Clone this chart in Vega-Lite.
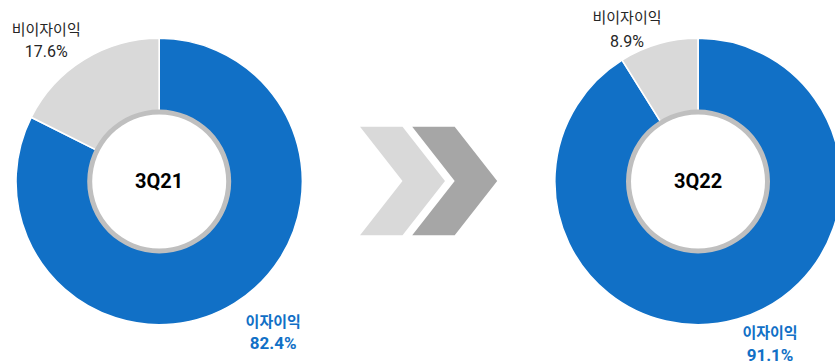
{
  "$schema": "https://vega.github.io/schema/vega-lite/v6.json",
  "width": 835,
  "height": 364,
  "autosize": "none",
  "padding": 0,
  "background": "white",
  "view": {"stroke": null},
  "config": {"font": "Noto Sans CJK KR"},
  "datasets": {
    "income": [
      {"period": "3Q21", "type": "이자이익", "share": 0.824},
      {"period": "3Q21", "type": "비이자이익", "share": 0.176},
      {"period": "3Q22", "type": "이자이익", "share": 0.911},
      {"period": "3Q22", "type": "비이자이익", "share": 0.089}
    ],
    "arrows": [
      {"period": "→", "shade": "light"},
      {"period": "→", "shade": "dark"}
    ]
  },
  "encoding": {
    "x": {
      "field": "period",
      "type": "nominal",
      "scale": {"type": "point", "domain": ["3Q21", "→", "3Q22"], "padding": 0.5497, "align": 0.5375},
      "axis": null
    }
  },
  "layer": [
    {
      "data": {"name": "income"},
      "transform": [
        {"stack": "share", "groupby": ["period"], "sort": [{"field": "type", "order": "descending"}], "as": ["s0", "s1"]}
      ],
      "mark": {"type": "arc", "outerRadius": 143.2, "innerRadius": 70, "stroke": "white", "strokeWidth": 1.6, "yOffset": -0.5},
      "encoding": {
        "theta": {"field": "s0", "type": "quantitative", "scale": {"domain": [0, 1]}},
        "theta2": {"field": "s1"},
        "color": {"field": "type", "type": "nominal", "scale": {"domain": ["이자이익", "비이자이익"], "range": ["#1170C6", "#D9D9D9"]}, "legend": null}
      }
    },
    {
      "data": {"name": "income"},
      "transform": [{"filter": "datum.type === '이자이익'"}],
      "mark": {"type": "arc", "theta": 0, "theta2": 6.2832, "innerRadius": 67, "outerRadius": 72, "fill": "#BFBFBF", "yOffset": -0.5},
      "encoding": {}
    },
    {
      "data": {"name": "income"},
      "transform": [{"filter": "datum.type === '이자이익'"}],
      "mark": {"type": "text", "font": "Roboto", "fontWeight": "bold", "fontSize": 20, "align": "center", "baseline": "middle", "color": "#000000"},
      "encoding": {"text": {"field": "period"}}
    },
    {
      "data": {"name": "arrows"},
      "transform": [{"filter": "datum.shade === 'light'"}],
      "mark": {"type": "point", "shape": "M-0.783,-1L0,-1L0.783,0L0,1L-0.783,1L0,0Z", "size": 11772, "filled": true, "opacity": 1, "color": "#D9D9D9", "strokeWidth": 0, "xOffset": -26.1, "yOffset": -1}
    },
    {
      "data": {"name": "arrows"},
      "transform": [{"filter": "datum.shade === 'dark'"}],
      "mark": {"type": "point", "shape": "M-0.783,-1L0,-1L0.783,0L0,1L-0.783,1L0,0Z", "size": 11772, "filled": true, "opacity": 1, "color": "#A6A6A6", "strokeWidth": 0, "xOffset": 26.1, "yOffset": -1}
    },
    {
      "data": {"name": "income"},
      "transform": [{"filter": "datum.period === '3Q21' && datum.type === '비이자이익'"}],
      "mark": {"type": "text", "fontSize": 15, "align": "center", "baseline": "middle", "color": "#262626", "dx": -113, "dy": -152},
      "encoding": {"text": {"field": "type"}}
    },
    {
      "data": {"name": "income"},
      "transform": [{"filter": "datum.period === '3Q21' && datum.type === '비이자이익'"}],
      "mark": {"type": "text", "font": "Roboto", "fontSize": 16, "align": "center", "baseline": "middle", "color": "#262626", "dx": -113, "dy": -130},
      "encoding": {"text": {"field": "share", "type": "quantitative", "format": ".1%"}}
    },
    {
      "data": {"name": "income"},
      "transform": [{"filter": "datum.period === '3Q21' && datum.type === '이자이익'"}],
      "mark": {"type": "text", "fontSize": 15, "fontWeight": "bold", "align": "center", "baseline": "middle", "color": "#1170C6", "dx": 114, "dy": 140},
      "encoding": {"text": {"field": "type"}}
    },
    {
      "data": {"name": "income"},
      "transform": [{"filter": "datum.period === '3Q21' && datum.type === '이자이익'"}],
      "mark": {"type": "text", "font": "Roboto", "fontSize": 17, "fontWeight": "bold", "align": "center", "baseline": "middle", "color": "#1170C6", "dx": 114, "dy": 162},
      "encoding": {"text": {"field": "share", "type": "quantitative", "format": ".1%"}}
    },
    {
      "data": {"name": "income"},
      "transform": [{"filter": "datum.period === '3Q22' && datum.type === '비이자이익'"}],
      "mark": {"type": "text", "fontSize": 15, "align": "center", "baseline": "middle", "color": "#262626", "dx": -71, "dy": -164},
      "encoding": {"text": {"field": "type"}}
    },
    {
      "data": {"name": "income"},
      "transform": [{"filter": "datum.period === '3Q22' && datum.type === '비이자이익'"}],
      "mark": {"type": "text", "font": "Roboto", "fontSize": 16, "align": "center", "baseline": "middle", "color": "#262626", "dx": -71, "dy": -140},
      "encoding": {"text": {"field": "share", "type": "quantitative", "format": ".1%"}}
    },
    {
      "data": {"name": "income"},
      "transform": [{"filter": "datum.period === '3Q22' && datum.type === '이자이익'"}],
      "mark": {"type": "text", "fontSize": 15, "fontWeight": "bold", "align": "center", "baseline": "middle", "color": "#1170C6", "dx": 72, "dy": 151},
      "encoding": {"text": {"field": "type"}}
    },
    {
      "data": {"name": "income"},
      "transform": [{"filter": "datum.period === '3Q22' && datum.type === '이자이익'"}],
      "mark": {"type": "text", "font": "Roboto", "fontSize": 17, "fontWeight": "bold", "align": "center", "baseline": "middle", "color": "#1170C6", "dx": 72, "dy": 174},
      "encoding": {"text": {"field": "share", "type": "quantitative", "format": ".1%"}}
    }
  ]
}
